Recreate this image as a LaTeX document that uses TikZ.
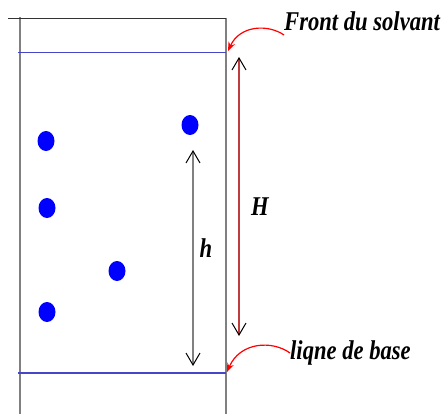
\documentclass[tikz,border=0pt]{standalone}
\usepackage{fontspec}
\setmainfont{Liberation Serif}
\usetikzlibrary{arrows.meta}
\definecolor{framegray}{RGB}{128,128,128}
\definecolor{lineblue}{RGB}{70,70,200}
\definecolor{darkred}{RGB}{190,60,60}
\definecolor{spotblue}{RGB}{0,0,255}
\newcommand{\tall}[1]{\scalebox{1}[1.2]{#1}}

\begin{document}
\begin{tikzpicture}[x=1pt, y=-1pt,
                    barb/.style={line width=1.2pt, {Straight Barb[length=12pt,width=14pt,color=black,line width=1pt]}-{Straight Barb[length=12pt,width=14pt,color=black,line width=1pt]}},
                    pointer/.style={red, line width=1.2pt, -{Stealth[length=9pt,width=7pt]}},
                    lbl/.style={font=\fontsize{22.6}{26}\selectfont\bfseries\itshape, inner sep=0pt}]
                    \useasboundingbox (0,0) rectangle (446,414);
                    % plaque
                    \draw[framegray, line width=1.5pt] (20,17) -- (20,414);
                    \draw[framegray, line width=1.5pt] (226,18) -- (226,414);
                    \draw[black!80, line width=1.3pt] (8,18.5) -- (226,18.5);
                    \draw[lineblue, line width=1.4pt] (18,52.5) -- (226,52.5);
                    \draw[lineblue, line width=1.4pt] (18,373) -- (226,373);
                    % taches
                    \fill[spotblue] (46,141) ellipse (8.5 and 10);
                    \fill[spotblue] (47,208) ellipse (8.5 and 10);
                    \fill[spotblue] (117,271) ellipse (8.5 and 10);
                    \fill[spotblue] (47,312) ellipse (8.5 and 10);
                    \fill[spotblue] (190,125) ellipse (8.5 and 10);
                    % distances
                    \coordinate (Htop) at (239,57);
                    \coordinate (Hbot) at (239,336);
                    \coordinate (htop) at (193,150);
                    \coordinate (hbot) at (193,366);
                    \draw[darkred, barb] (Htop) -- (Hbot);
                    \draw[framegray, barb] (htop) -- (hbot);
                    \node[lbl] (H) at (260,207) {\tall{H}};
                    \node[lbl] (h) at (206,248) {\tall{h}};
                    % legendes
                    \node[lbl, anchor=west] (front) at (284,21) {\tall{Front du solvant}};
                    \node[lbl, anchor=west] (base) at (290,353) {\tall{liqne de base}};
                    \coordinate (fronttip) at (228,51);
                    \coordinate (basetip) at (227,372);
                    \draw[pointer] (front.west |- 0,35) .. controls (268,24) and (240,25) .. (fronttip);
                    \draw[pointer] (base.west) .. controls (272,340) and (240,342) .. (basetip);
                \end{tikzpicture}
\end{document}
